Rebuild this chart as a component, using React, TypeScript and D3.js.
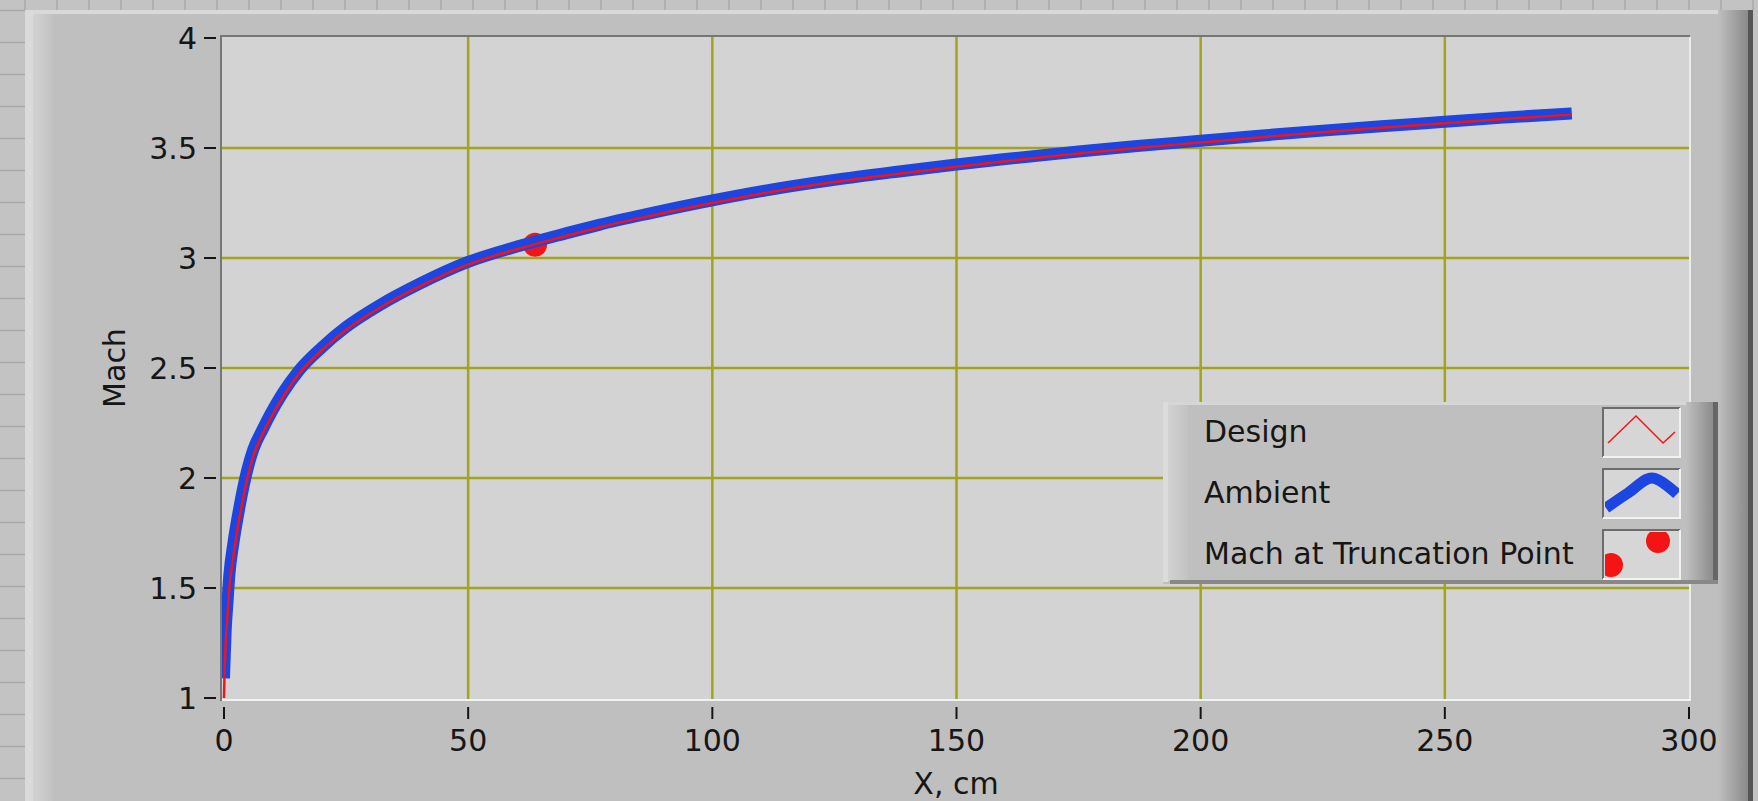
import React, { useRef, useEffect } from "react";
import * as d3 from "d3";

// nozzle position, cm
const xCm = [0, 0.1, 0.35, 0.7, 1.1, 1.9, 3.1, 4.8, 6.0, 8.0, 9.5, 12, 15.4, 20, 25, 32, 40, 50, 60, 70, 77, 87, 100, 112, 125, 137, 150, 160, 175, 187, 200, 212, 225, 237, 250, 262, 276];
// design Mach number
const designMach = [1.0, 1.1, 1.25, 1.37, 1.5, 1.64, 1.81, 2.0, 2.1, 2.205, 2.27, 2.365, 2.475, 2.58, 2.673, 2.775, 2.87, 2.97, 3.04, 3.1, 3.14, 3.19, 3.25, 3.3, 3.345, 3.38, 3.415, 3.44, 3.475, 3.5, 3.525, 3.548, 3.572, 3.592, 3.613, 3.632, 3.652];
// ambient Mach number
const ambientMach = [1.09, 1.16, 1.31, 1.43, 1.56, 1.7, 1.86, 2.04, 2.13, 2.225, 2.29, 2.385, 2.49, 2.593, 2.686, 2.787, 2.882, 2.982, 3.052, 3.112, 3.152, 3.202, 3.262, 3.311, 3.355, 3.39, 3.425, 3.45, 3.484, 3.509, 3.533, 3.556, 3.579, 3.599, 3.619, 3.638, 3.657];
// truncation point
const truncX = [63.7];
const truncMach = [3.06];

const xTicks = [0, 50, 100, 150, 200, 250, 300];
const yTicks = [1, 1.5, 2, 2.5, 3, 3.5, 4];
const xGrid = [50, 100, 150, 200, 250];
const yGrid = [1.5, 2, 2.5, 3, 3.5];
const legendLabels = ["Design", "Ambient", "Mach at Truncation Point"];

const W = 1758;
const H = 801;
const FONT = "'DejaVu Sans', 'Lucida Grande', sans-serif";
const RED = "#f41414";
const BLUE = "#1c45e2";
const GRID = "#a3a31c";

const App = () => {
  const chartSvg = useRef<SVGSVGElement>(null);

  useEffect(() => {
    const svg = d3.select(chartSvg.current);
    svg.selectAll("*").remove();

    const x = d3.scaleLinear().domain([0, 300]).range([224, 1689]);
    const y = d3.scaleLinear().domain([1, 4]).range([698, 38]);

    const defs = svg.append("defs");
    const edge = defs.append("linearGradient").attr("id", "rightEdge");
    edge.append("stop").attr("offset", "0").attr("stop-color", "#bfbfbf");
    edge.append("stop").attr("offset", "1").attr("stop-color", "#8a8a8a");
    const lband = defs.append("linearGradient").attr("id", "leftBand");
    lband.append("stop").attr("offset", "0").attr("stop-color", "#d2d2d2");
    lband.append("stop").attr("offset", "1").attr("stop-color", "#c2c2c2");
    defs.append("clipPath").attr("id", "plotClip")
      .append("rect").attr("x", 222).attr("y", 37).attr("width", 1467).attr("height", 662);

    // workspace background with grid
    svg.append("rect").attr("width", W).attr("height", H).attr("fill", "#c3c3c3");
    svg.append("g").selectAll("line").data(d3.range(25, W, 32)).enter().append("line")
      .attr("x1", d => d).attr("x2", d => d).attr("y1", 0).attr("y2", 10)
      .attr("stroke", "#a9a9a9").attr("stroke-width", 1.5);
    svg.append("g").selectAll("line").data(d3.range(10.5, H, 32)).enter().append("line")
      .attr("x1", 0).attr("x2", 25).attr("y1", d => d).attr("y2", d => d)
      .attr("stroke", "#a9a9a9").attr("stroke-width", 1.5);

    // front panel
    svg.append("rect").attr("x", 25).attr("y", 10).attr("width", 1728).attr("height", H).attr("fill", "#bfbfbf");
    svg.append("rect").attr("x", 25).attr("y", 10).attr("width", 1712).attr("height", 4).attr("fill", "#d9d9d9");
    svg.append("rect").attr("x", 25).attr("y", 10).attr("width", 8).attr("height", H).attr("fill", "#dadada");
    svg.append("rect").attr("x", 33).attr("y", 14).attr("width", 20).attr("height", H).attr("fill", "url(#leftBand)");
    svg.append("rect").attr("x", 1718).attr("y", 10).attr("width", 30).attr("height", H).attr("fill", "url(#rightEdge)");
    svg.append("rect").attr("x", 1748).attr("y", 10).attr("width", 5).attr("height", H).attr("fill", "#555");

    // plot area
    svg.append("rect").attr("x", 221).attr("y", 36).attr("width", 1469).attr("height", 664).attr("fill", "#d3d3d3");
    const grid = svg.append("g").attr("stroke", GRID).attr("stroke-width", 2.5);
    grid.selectAll(".gx").data(xGrid).enter().append("line")
      .attr("x1", d => x(d)).attr("x2", d => x(d)).attr("y1", 37).attr("y2", 699);
    grid.selectAll(".gy").data(yGrid).enter().append("line")
      .attr("x1", 222).attr("x2", 1689).attr("y1", d => y(d)).attr("y2", d => y(d));

    svg.append("line").attr("x1", 221).attr("x2", 221).attr("y1", 35).attr("y2", 701).attr("stroke", "#767676").attr("stroke-width", 2);
    svg.append("line").attr("x1", 220).attr("x2", 1690).attr("y1", 36).attr("y2", 36).attr("stroke", "#767676").attr("stroke-width", 2);
    svg.append("line").attr("x1", 1690).attr("x2", 1690).attr("y1", 37).attr("y2", 701).attr("stroke", "#ececec").attr("stroke-width", 2);
    svg.append("line").attr("x1", 222).attr("x2", 1691).attr("y1", 700).attr("y2", 700).attr("stroke", "#f2f2f2").attr("stroke-width", 2);

    // ticks and labels
    const ticks = svg.append("g").attr("stroke", "#151515").attr("stroke-width", 2);
    ticks.selectAll(".ty").data(yTicks).enter().append("line")
      .attr("x1", 204).attr("x2", 216).attr("y1", d => y(d)).attr("y2", d => y(d));
    ticks.selectAll(".tx").data(xTicks).enter().append("line")
      .attr("x1", d => x(d)).attr("x2", d => x(d)).attr("y1", 707).attr("y2", 719);

    const labels = svg.append("g").attr("font-family", FONT).attr("font-size", 30).attr("fill", "#161616");
    labels.selectAll(".ly").data(yTicks).enter().append("text")
      .attr("x", 197).attr("y", d => y(d)).attr("dy", "0.36em").attr("text-anchor", "end")
      .text(d => String(d));
    labels.selectAll(".lx").data(xTicks).enter().append("text")
      .attr("x", d => x(d)).attr("y", 751).attr("text-anchor", "middle")
      .text(d => String(d));
    labels.append("text").attr("x", 956).attr("y", 794).attr("text-anchor", "middle").text("X, cm");
    labels.append("text").attr("transform", "translate(125,368) rotate(-90)").attr("text-anchor", "middle").text("Mach");

    // series
    const plot = svg.append("g").attr("clip-path", "url(#plotClip)");
    plot.selectAll("circle").data(truncX).enter().append("circle")
      .attr("cx", d => x(d)).attr("cy", (_, i) => y(truncMach[i])).attr("r", 12).attr("fill", RED);
    const line = d3.line<number>().x(d => x(d)).curve(d3.curveMonotoneX);
    plot.append("path").attr("d", line.y((_, i) => y(ambientMach[i]))(xCm))
      .attr("fill", "none").attr("stroke", BLUE).attr("stroke-width", 12).attr("stroke-linejoin", "round");
    plot.append("path").attr("d", line.y((_, i) => y(designMach[i]))(xCm))
      .attr("fill", "none").attr("stroke", RED).attr("stroke-width", 2.5);

    // legend
    const lg = svg.append("g");
    lg.append("rect").attr("x", 1163).attr("y", 402).attr("width", 555).attr("height", 182).attr("fill", "#bfbfbf");
    lg.append("rect").attr("x", 1163).attr("y", 402).attr("width", 550).attr("height", 3).attr("fill", "#d6d6d6");
    lg.append("rect").attr("x", 1163).attr("y", 402).attr("width", 5).attr("height", 180).attr("fill", "#dcdcdc");
    lg.append("rect").attr("x", 1168).attr("y", 405).attr("width", 20).attr("height", 176).attr("fill", "url(#leftBand)");
    lg.append("rect").attr("x", 1686).attr("y", 402).attr("width", 28).attr("height", 182).attr("fill", "url(#rightEdge)");
    lg.append("rect").attr("x", 1713).attr("y", 402).attr("width", 5).attr("height", 182).attr("fill", "#666");
    lg.append("rect").attr("x", 1170).attr("y", 580).attr("width", 548).attr("height", 4).attr("fill", "#888");

    const rowY = [431, 492, 553];
    const boxY = [408, 469, 530];
    lg.selectAll("text").data(legendLabels).enter().append("text")
      .attr("x", 1204).attr("y", (_, i) => rowY[i]).attr("dy", "0.36em")
      .attr("font-family", FONT).attr("font-size", 30).attr("fill", "#161616")
      .text(d => d);

    boxY.forEach((by, i) => {
      defs.append("clipPath").attr("id", `icon${i}`)
        .append("rect").attr("x", 1605).attr("y", by + 2).attr("width", 74).attr("height", 46);
      lg.append("rect").attr("x", 1603).attr("y", by).attr("width", 77).attr("height", 49).attr("fill", "#d6d6d6");
      lg.append("path").attr("d", `M1603,${by + 49}V${by}H1680`).attr("fill", "none").attr("stroke", "#6c6c6c").attr("stroke-width", 2);
      lg.append("path").attr("d", `M1680,${by}V${by + 49}H1603`).attr("fill", "none").attr("stroke", "#f2f2f2").attr("stroke-width", 2);
    });
    lg.append("path").attr("d", "M1608,443L1636,416L1663,443L1675,432")
      .attr("fill", "none").attr("stroke", RED).attr("stroke-width", 1.5);
    lg.append("path").attr("clip-path", "url(#icon1)")
      .attr("d", d3.line().curve(d3.curveCatmullRom)([[1606, 508], [1628, 493], [1652, 478], [1677, 494]]))
      .attr("fill", "none").attr("stroke", BLUE).attr("stroke-width", 11);
    const mk = lg.append("g").attr("clip-path", "url(#icon2)").attr("fill", RED);
    mk.append("circle").attr("cx", 1611).attr("cy", 565).attr("r", 12);
    mk.append("circle").attr("cx", 1658).attr("cy", 541).attr("r", 12);
  }, []);

  return (
    <div style={{ position: "fixed", left: 0, top: 0 }}>
      <svg ref={chartSvg} width={W} height={H} style={{ display: "block" }}></svg>
    </div>
  );
};

export default App;
